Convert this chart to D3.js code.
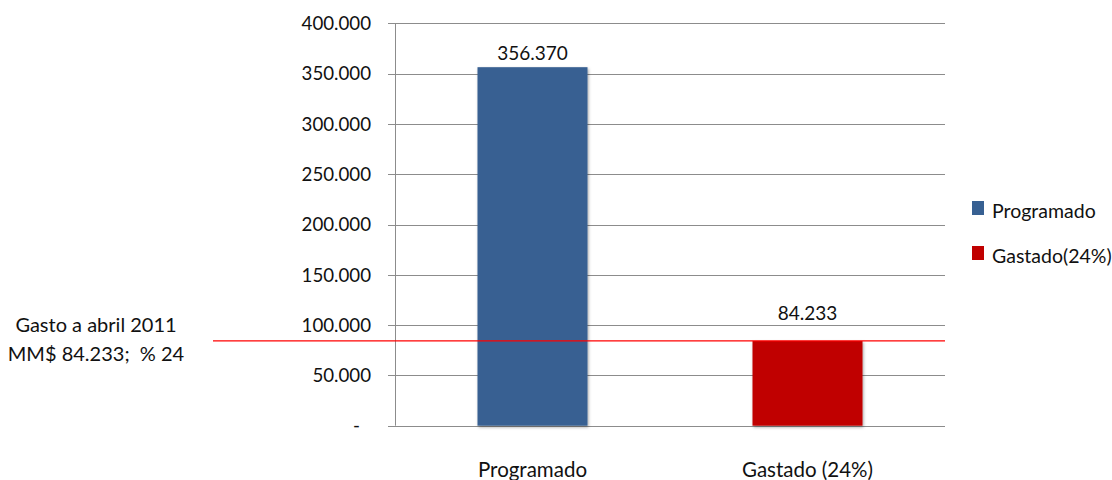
<!DOCTYPE html>
<html lang="es">
<head>
<meta charset="utf-8">
<title>Programado vs Gastado</title>
<script src="https://d3js.org/d3.v7.min.js"></script>
<style>
  body { margin: 0; background: #fff; }
  text { font-family: Lato, "Open Sans", sans-serif; fill: #111; }
</style>
</head>
<body>
<script>
// data
var categories = ["Programado", "Gastado (24%)"];
var values = [356370, 84233];
var colors = ["#376092", "#c00000"];
var yTicks = [0, 50000, 100000, 150000, 200000, 250000, 300000, 350000, 400000];
var refValue = 84233;
var noteLines = ["Gasto a abril 2011", "MM$ 84.233;  % 24"];

var w = 1112, h = 480;
var plotLeft = 395, plotRight = 945, plotTop = 23.3, plotBottom = 425.7;

var svg = d3.select("body").append("svg").attr("width", w).attr("height", h);

var x = d3.scaleBand().domain(categories).range([plotLeft, plotRight]).paddingInner(0.6).paddingOuter(0.3);
var y = d3.scaleLinear().domain([0, 400000]).range([plotBottom, plotTop]);

var fmt = function(v) { return v === 0 ? "-" : d3.format(",")(v).replace(/,/g, "."); };

// grid lines
svg.append("g").selectAll("line").data(yTicks).join("line")
  .attr("x1", plotLeft - 7).attr("x2", plotRight)
  .attr("y1", d => Math.round(y(d)) + 0.5).attr("y2", d => Math.round(y(d)) + 0.5)
  .attr("stroke", "#8c8c8c").attr("stroke-width", 1);

// y axis line
svg.append("line").attr("x1", plotLeft + 0.5).attr("x2", plotLeft + 0.5)
  .attr("y1", y(400000)).attr("y2", y(0)).attr("stroke", "#8c8c8c");

// tick labels
svg.append("g").selectAll("text").data(yTicks).join("text")
  .attr("x", d => d === 0 ? 360 : 371).attr("y", d => y(d))
  .attr("dy", "0.36em").attr("text-anchor", "end").attr("font-size", 18.7)
  .text(fmt);

// bars with a soft shadow
var defs = svg.append("defs");
var f = defs.append("filter").attr("id", "shadow").attr("x", "-10%").attr("y", "-10%").attr("width", "130%").attr("height", "130%");
f.append("feDropShadow").attr("dx", 1).attr("dy", 1.5).attr("stdDeviation", 1.5).attr("flood-color", "#000").attr("flood-opacity", 0.35);

svg.append("g").selectAll("rect").data(values).join("rect")
  .attr("x", (d, i) => x(categories[i])).attr("width", x.bandwidth())
  .attr("y", d => y(d)).attr("height", d => y(0) - y(d))
  .attr("fill", (d, i) => colors[i]).attr("filter", "url(#shadow)");

// value labels (the second one sits higher, above the red line)
svg.append("g").selectAll("text").data(values).join("text")
  .attr("x", (d, i) => x(categories[i]) + x.bandwidth() / 2)
  .attr("y", (d, i) => y(d) - (i === 0 ? 7 : 21))
  .attr("text-anchor", "middle").attr("font-size", 19)
  .text(fmt);

// category labels
svg.append("g").selectAll("text").data(categories).join("text")
  .attr("x", d => x(d) + x.bandwidth() / 2).attr("y", 477)
  .attr("text-anchor", "middle").attr("font-size", 20.5)
  .text(d => d);

// reference line
svg.append("line").attr("x1", 213).attr("x2", plotRight)
  .attr("y1", y(refValue)).attr("y2", y(refValue))
  .attr("stroke", "#ff0000").attr("stroke-width", 1.2);

svg.append("g").selectAll("text").data(noteLines).join("text")
  .attr("x", 96).attr("y", (d, i) => 325 + i * 29)
  .attr("dy", "0.36em")
  .attr("text-anchor", "middle").attr("font-size", 20)
  .attr("xml:space", "preserve")
  .text(d => d);

// legend
var legend = svg.append("g").selectAll("g").data(categories).join("g")
  .attr("transform", (d, i) => "translate(972," + (201 + i * 45) + ")");
legend.append("rect").attr("width", 12).attr("height", 14).attr("fill", (d, i) => colors[i]);
legend.append("text").attr("x", 20).attr("y", 9.5).attr("dy", "0.36em").attr("font-size", 19.5)
  .text(d => d.replace(" (", "("));
</script>
</body>
</html>
